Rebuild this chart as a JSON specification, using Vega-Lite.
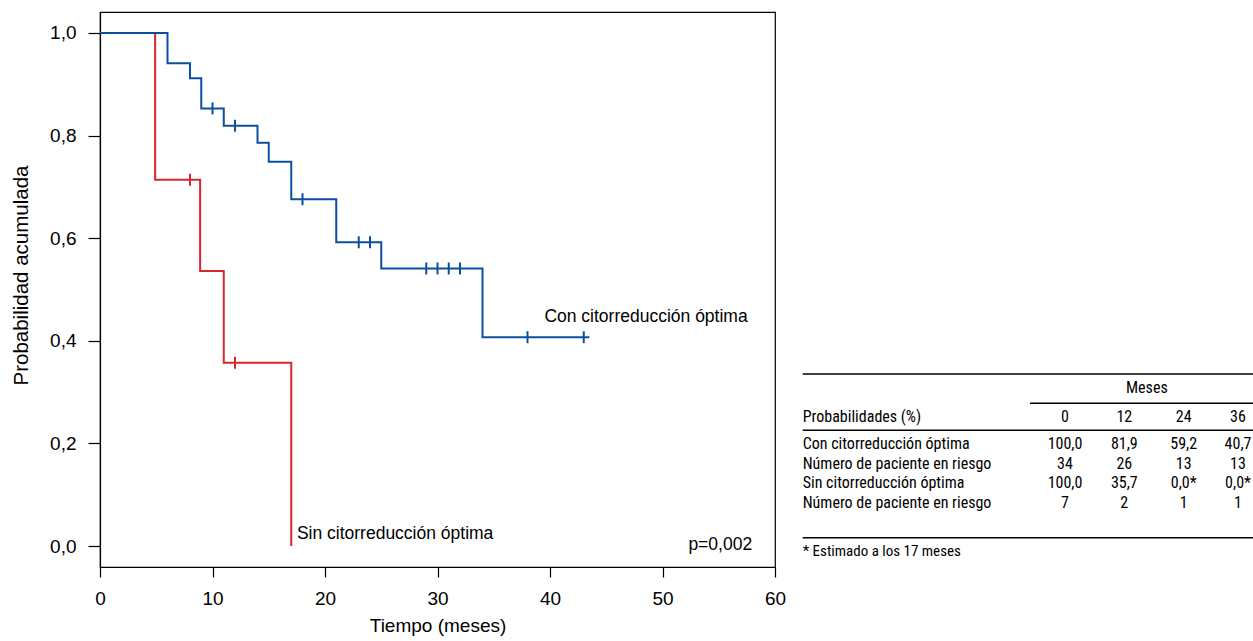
{
  "$schema": "https://vega.github.io/schema/vega-lite/v6.json",
  "padding": {"left": 10, "top": 11, "right": 0, "bottom": 0},
  "bounds": "flush",
  "spacing": 25,
  "datasets": {
    "km": [
      {"grupo": "Sin citorreducción óptima", "t": 0, "s": 1},
      {"grupo": "Sin citorreducción óptima", "t": 4.9, "s": 0.714},
      {"grupo": "Sin citorreducción óptima", "t": 8.9, "s": 0.536},
      {"grupo": "Sin citorreducción óptima", "t": 11, "s": 0.357},
      {"grupo": "Sin citorreducción óptima", "t": 17, "s": 0},
      {"grupo": "Con citorreducción óptima", "t": 0, "s": 1},
      {"grupo": "Con citorreducción óptima", "t": 6, "s": 0.941},
      {"grupo": "Con citorreducción óptima", "t": 8, "s": 0.912},
      {"grupo": "Con citorreducción óptima", "t": 9, "s": 0.853},
      {"grupo": "Con citorreducción óptima", "t": 11, "s": 0.819},
      {"grupo": "Con citorreducción óptima", "t": 14, "s": 0.786},
      {"grupo": "Con citorreducción óptima", "t": 15, "s": 0.749},
      {"grupo": "Con citorreducción óptima", "t": 17, "s": 0.676},
      {"grupo": "Con citorreducción óptima", "t": 21, "s": 0.592},
      {"grupo": "Con citorreducción óptima", "t": 25, "s": 0.541},
      {"grupo": "Con citorreducción óptima", "t": 34, "s": 0.407},
      {"grupo": "Con citorreducción óptima", "t": 43.5, "s": 0.407}
    ],
    "censura": [
      {"grupo": "Sin citorreducción óptima", "t": 8, "s": 0.714},
      {"grupo": "Sin citorreducción óptima", "t": 12, "s": 0.357},
      {"grupo": "Con citorreducción óptima", "t": 10, "s": 0.853},
      {"grupo": "Con citorreducción óptima", "t": 12, "s": 0.819},
      {"grupo": "Con citorreducción óptima", "t": 18, "s": 0.676},
      {"grupo": "Con citorreducción óptima", "t": 23, "s": 0.592},
      {"grupo": "Con citorreducción óptima", "t": 24, "s": 0.592},
      {"grupo": "Con citorreducción óptima", "t": 29, "s": 0.541},
      {"grupo": "Con citorreducción óptima", "t": 30, "s": 0.541},
      {"grupo": "Con citorreducción óptima", "t": 31, "s": 0.541},
      {"grupo": "Con citorreducción óptima", "t": 32, "s": 0.541},
      {"grupo": "Con citorreducción óptima", "t": 38, "s": 0.407},
      {"grupo": "Con citorreducción óptima", "t": 43, "s": 0.407}
    ],
    "notas": [
      {"t": 39.5, "s": 0.446, "label": "Con citorreducción óptima"},
      {"t": 17.5, "s": 0.023, "label": "Sin citorreducción óptima"},
      {"t": 52.3, "s": 0.0014, "label": "p=0,002"}
    ],
    "tabla": [
      {"row": 1, "col": 3.38, "text": "Meses"},
      {"row": 3, "col": 0, "text": "Probabilidades (%)"},
      {"row": 3, "col": 2, "text": "0"},
      {"row": 3, "col": 3, "text": "12"},
      {"row": 3, "col": 4, "text": "24"},
      {"row": 3, "col": 5, "text": "36"},
      {"row": 5, "col": 0, "text": "Con citorreducción óptima"},
      {"row": 5, "col": 2, "text": "100,0"},
      {"row": 5, "col": 3, "text": "81,9"},
      {"row": 5, "col": 4, "text": "59,2"},
      {"row": 5, "col": 5, "text": "40,7"},
      {"row": 6, "col": 0, "text": "Número de paciente en riesgo"},
      {"row": 6, "col": 2, "text": "34"},
      {"row": 6, "col": 3, "text": "26"},
      {"row": 6, "col": 4, "text": "13"},
      {"row": 6, "col": 5, "text": "13"},
      {"row": 7, "col": 0, "text": "Sin citorreducción óptima"},
      {"row": 7, "col": 2, "text": "100,0"},
      {"row": 7, "col": 3, "text": "35,7"},
      {"row": 7, "col": 4, "text": "0,0*"},
      {"row": 7, "col": 5, "text": "0,0*"},
      {"row": 8, "col": 0, "text": "Número de paciente en riesgo"},
      {"row": 8, "col": 2, "text": "7"},
      {"row": 8, "col": 3, "text": "2"},
      {"row": 8, "col": 4, "text": "1"},
      {"row": 8, "col": 5, "text": "1"},
      {"row": 10, "col": 0, "text": "* Estimado a los 17 meses"}
    ],
    "reglas": [
      {"row": 0, "c1": 0, "c2": 6},
      {"row": 2, "c1": 1, "c2": 6},
      {"row": 4, "c1": 0, "c2": 6},
      {"row": 9, "c1": 0, "c2": 6}
    ]
  },
  "config": {
    "font": "Liberation Sans",
    "view": {"stroke": null},
    "axis": {
      "grid": false,
      "domainColor": "#000",
      "tickColor": "#000",
      "labelColor": "#000",
      "titleColor": "#000",
      "labelFont": "Liberation Sans",
      "titleFont": "Liberation Sans",
      "titleFontWeight": "normal",
      "domainWidth": 1.2,
      "tickWidth": 1.2
    }
  },
  "hconcat": [
    {
      "width": 675,
      "height": 555,
      "view": {"stroke": "#000", "strokeWidth": 1.2},
      "layer": [
        {
          "data": {"name": "km"},
          "transform": [{"filter": "datum.grupo == 'Sin citorreducción óptima'"}],
          "mark": {"type": "line", "interpolate": "step-after", "strokeWidth": 2},
          "encoding": {
            "x": {
              "field": "t", "type": "quantitative",
              "scale": {"domain": [0, 60], "nice": false, "zero": false},
              "axis": {
                "values": [0, 10, 20, 30, 40, 50, 60],
                "title": "Tiempo (meses)",
                "titleFontSize": 19,
                "labelFontSize": 19,
                "tickSize": 10,
                "labelPadding": 12,
                "titlePadding": 8,
                "labelFlush": false
              }
            },
            "y": {
              "field": "s", "type": "quantitative",
              "scale": {"domain": [-0.0409, 1.0409], "nice": false, "zero": false},
              "axis": {
                "values": [0, 0.2, 0.4, 0.6, 0.8, 1],
                "labelExpr": "replace(format(datum.value, '.1f'), '.', ',')",
                "title": "Probabilidad acumulada",
                "titleFontSize": 20.5,
                "labelFontSize": 19,
                "tickSize": 12,
                "labelPadding": 12,
                "titlePadding": 18,
                "titleY": 263
              }
            },
            "color": {
              "field": "grupo", "type": "nominal",
              "scale": {"domain": ["Con citorreducción óptima", "Sin citorreducción óptima"], "range": ["#0d4f9f", "#d7262e"]},
              "legend": null
            }
          }
        },
        {
          "data": {"name": "km"},
          "transform": [{"filter": "datum.grupo == 'Con citorreducción óptima'"}],
          "mark": {"type": "line", "interpolate": "step-after", "strokeWidth": 2},
          "encoding": {
            "x": {"field": "t", "type": "quantitative"},
            "y": {"field": "s", "type": "quantitative"},
            "color": {"field": "grupo", "type": "nominal", "legend": null}
          }
        },
        {
          "data": {"name": "censura"},
          "mark": {"type": "tick", "orient": "vertical", "size": 12, "thickness": 2, "opacity": 1},
          "encoding": {
            "x": {"field": "t", "type": "quantitative"},
            "y": {"field": "s", "type": "quantitative"},
            "color": {"field": "grupo", "type": "nominal", "legend": null}
          }
        },
        {
          "data": {"name": "notas"},
          "mark": {"type": "text", "align": "left", "baseline": "middle", "fontSize": 17.5, "color": "#000", "font": "Liberation Sans"},
          "encoding": {
            "x": {"field": "t", "type": "quantitative"},
            "y": {"field": "s", "type": "quantitative"},
            "text": {"field": "label"}
          }
        }
      ]
    },
    {
      "width": 453,
      "height": 555,
      "layer": [
        {
          "data": {"name": "reglas"},
          "mark": {"type": "rule", "color": "#000", "strokeWidth": 1.4},
          "encoding": {
            "x": {
              "field": "c1", "type": "quantitative",
              "scale": {"domain": [0, 1, 2, 3, 4, 5, 6], "range": [2.7, 230, 265, 324.3, 383.7, 438, 453], "nice": false, "zero": false},
              "axis": null
            },
            "x2": {"field": "c2"},
            "y": {
              "field": "row", "type": "quantitative",
              "scale": {"domain": [0, 1, 2, 3, 4, 5, 6, 7, 8, 9, 10], "range": [362, 375.7, 391.3, 404.7, 418.3, 432, 451.7, 471.3, 490.7, 525.7, 539], "nice": false, "zero": false},
              "axis": null
            }
          }
        },
        {
          "data": {"name": "tabla"},
          "transform": [{"filter": "datum.col == 0 && datum.row < 10"}],
          "mark": {"type": "text", "align": "left", "baseline": "middle", "fontSize": 16, "font": "Roboto Condensed, DejaVu Sans Condensed, Liberation Sans", "color": "#000"},
          "encoding": {
            "x": {"field": "col", "type": "quantitative"},
            "y": {"field": "row", "type": "quantitative"},
            "text": {"field": "text"}
          }
        },
        {
          "data": {"name": "tabla"},
          "transform": [{"filter": "datum.col > 0"}],
          "mark": {"type": "text", "align": "center", "baseline": "middle", "fontSize": 16, "font": "Roboto Condensed, DejaVu Sans Condensed, Liberation Sans", "color": "#000"},
          "encoding": {
            "x": {"field": "col", "type": "quantitative"},
            "y": {"field": "row", "type": "quantitative"},
            "text": {"field": "text"}
          }
        },
        {
          "data": {"name": "tabla"},
          "transform": [{"filter": "datum.row == 10"}],
          "mark": {"type": "text", "align": "left", "baseline": "middle", "fontSize": 15, "font": "Roboto Condensed, DejaVu Sans Condensed, Liberation Sans", "color": "#000"},
          "encoding": {
            "x": {"field": "col", "type": "quantitative"},
            "y": {"field": "row", "type": "quantitative"},
            "text": {"field": "text"}
          }
        }
      ]
    }
  ]
}
